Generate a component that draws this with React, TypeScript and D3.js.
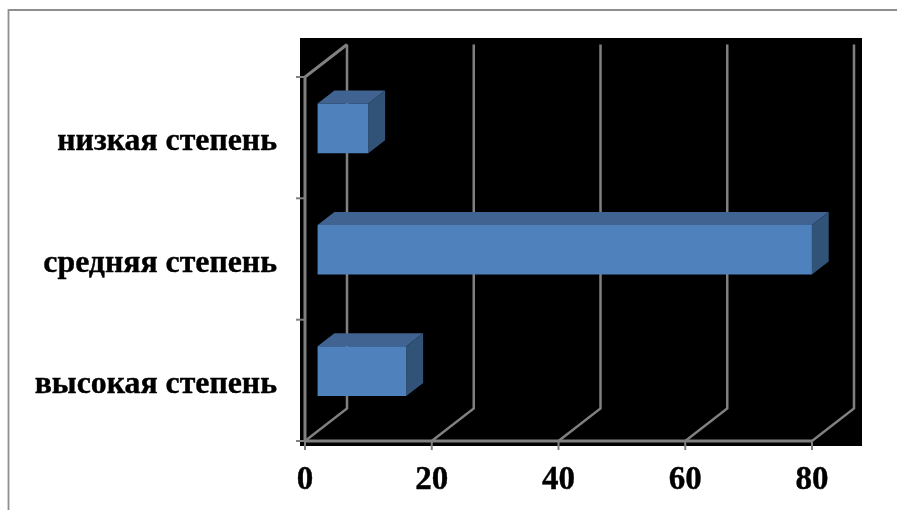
import React from "react";
import * as d3 from "d3";

const categories = ["низкая степень", "средняя степень", "высокая степень"];
const values = [8, 78, 14];
const xTicks = [0, 20, 40, 60, 80];

const W = 897, H = 510;
const x = d3.scaleLinear().domain([0, 80]).range([305, 812]);
const y = d3.scaleBand<string>().domain(categories).range([77, 441]).paddingInner(0).paddingOuter(0);
const depthX = 42, depthY = -32.5;
const GRAY = "#808080";
const proj = (px: number, py: number, d: number): [number, number] => [px + depthX * d, py + depthY * d];
const line = d3.line();

export default function App() {
  const bandH = y.bandwidth();
  const barH = bandH / 2.44;
  return (
    <svg width={W} height={H} style={{ position: "absolute", left: 0, top: 0, background: "#fff" }}>
      <defs>
        <filter id="soft" x="-5%" y="-5%" width="110%" height="110%">
          <feGaussianBlur stdDeviation="0.4" />
        </filter>
      </defs>
      <g filter="url(#soft)">
        <path d="M8.5,510 V10 H897" fill="none" stroke="#8f8f8f" strokeWidth={1.8} />
        <rect x={300} y={38} width={562} height={408} fill="#000" />
        {xTicks.map((t) => {
          const f0: [number, number] = [x(t), 441];
          const b0 = proj(x(t), 441, 1);
          const b1 = proj(x(t), 77, 1);
          return <path key={t} d={line([f0, b0, b1]) || ""} fill="none" stroke={GRAY} strokeWidth={2.5} />;
        })}
        <path d={line([[305, 441], [305, 77], proj(305, 77, 1)]) || ""} fill="none" stroke={GRAY} strokeWidth={3} />
        <path d={line([[305, 441], [x(80), 441]]) || ""} fill="none" stroke={GRAY} strokeWidth={3} />
        {[77, 198.3, 319.7, 441].map((t) => (
          <line key={t} x1={296} x2={305} y1={t} y2={t} stroke={GRAY} strokeWidth={2} />
        ))}
        {xTicks.map((t) => (
          <line key={t} x1={x(t)} x2={x(t)} y1={441} y2={450} stroke={GRAY} strokeWidth={2} />
        ))}
        {categories.map((c, i) => {
          const yTop = y(c)! + (bandH - barH) / 2 + 0.5;
          const yBot = yTop + barH;
          const d0 = 0.3, d1 = 0.7;
          const x0 = x(0), x1 = x(values[i]);
          const a = proj(x0, yTop, d0), b = proj(x1, yTop, d0), cc = proj(x1, yBot, d0), e = proj(x0, yBot, d0);
          const a2 = proj(x0, yTop, d1), b2 = proj(x1, yTop, d1), c2 = proj(x1, yBot, d1);
          return (
            <g key={c}>
              <path d={(line([a, a2, b2, b]) || "") + "Z"} fill="#3f6391" />
              <path d={(line([b, b2, c2, cc]) || "") + "Z"} fill="#335378" />
              <path d={(line([a, b, cc, e]) || "") + "Z"} fill="#4f81bd" />
              <text x={277} y={y(c)! + bandH / 2 + 12.5} textAnchor="end" fontFamily="Liberation Serif" fontWeight="bold" fontSize={31.8} fill="#000" stroke="#000" strokeWidth={0.4}>
                {c}
              </text>
            </g>
          );
        })}
        {xTicks.map((t) => (
          <text key={t} x={x(t)} y={489} textAnchor="middle" fontFamily="Liberation Serif" fontWeight="bold" fontSize={33} fill="#000" stroke="#000" strokeWidth={0.4}>
            {t}
          </text>
        ))}
      </g>
    </svg>
  );
}
